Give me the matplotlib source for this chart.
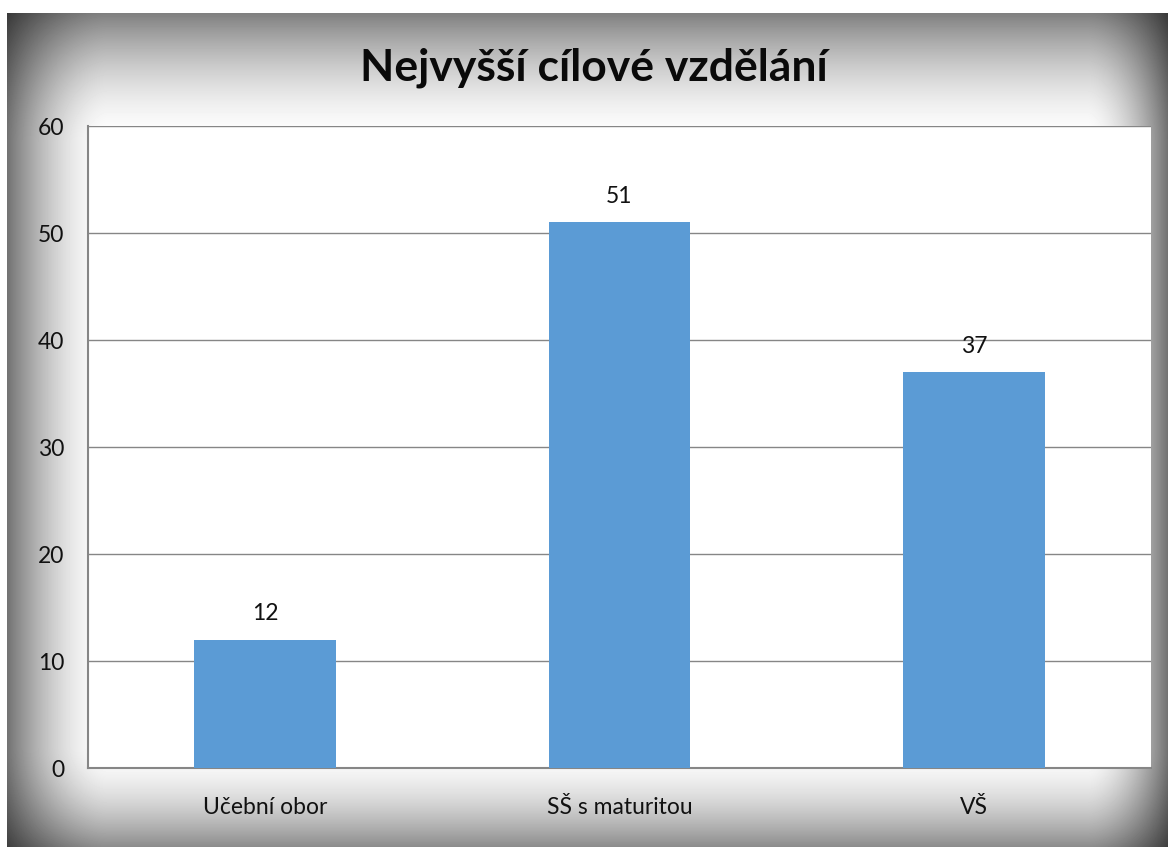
import numpy as np
import matplotlib
matplotlib.use("Agg")
import matplotlib.pyplot as plt

categories = ["Učební obor", "SŠ s maturitou", "VŠ"]
values = [12, 51, 37]
yticks = [0, 10, 20, 30, 40, 50, 60]
title = "Nejvyšší cílové vzdělání"

plt.rcParams['font.family'] = ['Lato', 'DejaVu Sans']

W, H = 1168, 847
fig = plt.figure(figsize=(W / 100, H / 100), dpi=100)
fig.patch.set_facecolor("white")

# shaded frame behind the chart (dark edges fading into white)
bg = fig.add_axes([7 / W, 0, 1 - 7 / W, 1 - 13 / H])
bg.set_axis_off()
fw, fh = W - 7, H - 13
xx, yy = np.meshgrid(np.arange(fw), np.arange(fh))

def edge(d, w, a):
    return a * np.clip(1 - d / w, 0, 1) ** 1.7

shade = (1 - edge(yy, 130, 0.5)) * (1 - edge(fh - 1 - yy, 100, 0.45)) \
    * (1 - edge(xx, 100, 0.55)) * (1 - edge(fw - 1 - xx, 80, 0.55))
bg.imshow(shade, cmap="gray", vmin=0, vmax=1, aspect="auto",
          extent=[0, fw, fh, 0], interpolation="bilinear")
bg.set_xlim(0, fw)
bg.set_ylim(fh, 0)

ax = fig.add_axes([88 / W, 1 - 768 / H, (1151 - 88) / W, (768 - 126) / H])
ax.set_facecolor("white")
x = np.arange(len(categories))
bars = ax.bar(x, values, width=0.4, color="#5B9BD5", zorder=3)
for b, v in zip(bars, values):
    ax.annotate(str(v), (b.get_x() + b.get_width() / 2, v), xytext=(0, 11),
                textcoords="offset points", ha="center", va="bottom",
                fontsize=16.5, color="#111111")

ax.set_xlim(-0.5, len(categories) - 0.5)
ax.set_ylim(0, 60)
ax.set_yticks(yticks)
ax.set_xticks(x)
ax.set_xticklabels(categories)
ax.grid(axis="y", color="#868686", linewidth=1, zorder=0)
ax.tick_params(axis="both", length=0, labelsize=16.5, colors="#111111")
ax.tick_params(axis="y", pad=17)
ax.tick_params(axis="x", pad=21)
for s in ["top", "right"]:
    ax.spines[s].set_visible(False)
for s in ["left", "bottom"]:
    ax.spines[s].set_color("#868686")
    ax.spines[s].set_linewidth(1.5)

fig.text(594 / W, 1 - 68 / H, title, ha="center", va="center",
         fontsize=32, fontweight="bold", color="#0a0a0a")

fig.savefig("out.png", dpi=100)
